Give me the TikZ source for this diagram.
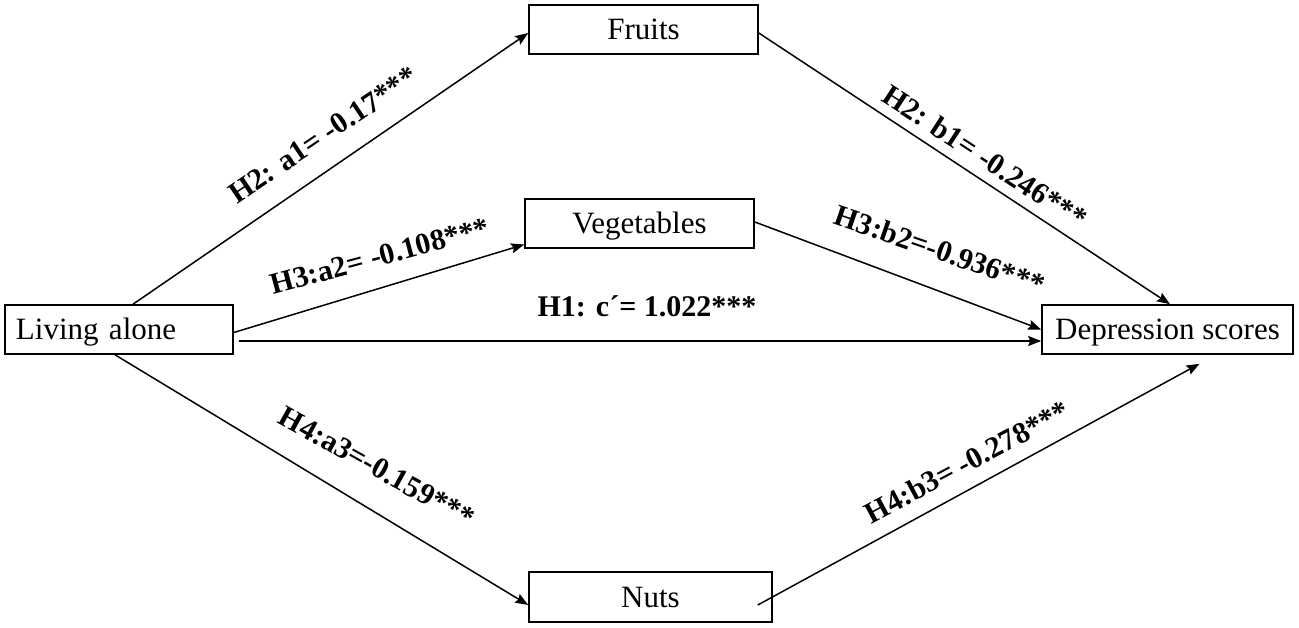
\documentclass[tikz,border=0pt]{standalone}
\usepackage{fontspec}
\setmainfont{Liberation Serif}
\usetikzlibrary{arrows.meta}
\tikzset{
  varbox/.style={draw, line width=1.6pt, minimum width=#1, minimum height=49pt,
    inner sep=0pt, text height=24pt, text depth=4pt, font=\fontsize{31}{37}\selectfont},
  link/.style={line width=1.5pt, -{Stealth[length=13pt,width=10pt,inset=2pt]}},
  coef/.style={font=\fontsize{30}{36}\selectfont\bfseries, inner sep=0pt}
}
\begin{document}
\begin{tikzpicture}[x=1pt, y=-1pt]
    \useasboundingbox (0,0) rectangle (1299,628);
    % Boxes
    \node[varbox=228pt, text width=206pt, align=left] (alone) at (119,329.5) {Living alone};
    \node[varbox=251pt] (dep) at (1167.5,329.5) {Depression scores};
    \node[varbox=229pt] (fruits) at (643.5,29.5) {Fruits};
    \node[varbox=229pt] (veg) at (639.5,223.5) {Vegetables};
    \node[varbox=243pt, minimum height=50pt] (nuts) at (650.5,597) {Nuts};
    % Paths a
    \draw[link] ([xshift=14pt]alone.north) -- ([yshift=-3.5pt]fruits.west);
    \draw[link] ([yshift=-3pt]alone.east) -- ([yshift=-21pt]veg.west);
    \draw[link] ([xshift=5pt,yshift=-11.5pt]alone.east) -- ([yshift=-11.5pt]dep.west);
    \draw[link] ([xshift=-4pt]alone.south) -- ([yshift=-8pt]nuts.west);
    % Paths b
    \draw[link] ([yshift=-3.5pt]fruits.east) -- ([xshift=2.5pt]dep.north);
    \draw[link] ([yshift=1.5pt]veg.east) -- (dep.west);
    \draw[link] ([xshift=-15pt,yshift=-8pt]nuts.east) -- ([xshift=32pt,yshift=-9pt]dep.south);
    % Coefficients
    \node[coef, rotate=34] (la1) at (323,135) {H2: a1= -0.17***};
    \node[coef, rotate=15] (la2) at (380,256) {H3:a2= -0.108***};
    \node[coef] (lc) at (647,306) {H1: c´= 1.022***};
    \node[coef, rotate=-29] (la3) at (377,467) {H4:a3=-0.159***};
    \node[coef, rotate=-33] (lb1) at (985,157) {H2: b1= -0.246***};
    \node[coef, rotate=-19] (lb2) at (940,250) {H3:b2=-0.936***};
    \node[coef, rotate=28] (lb3) at (967,462) {H4:b3= -0.278***};
\end{tikzpicture}
\end{document}
